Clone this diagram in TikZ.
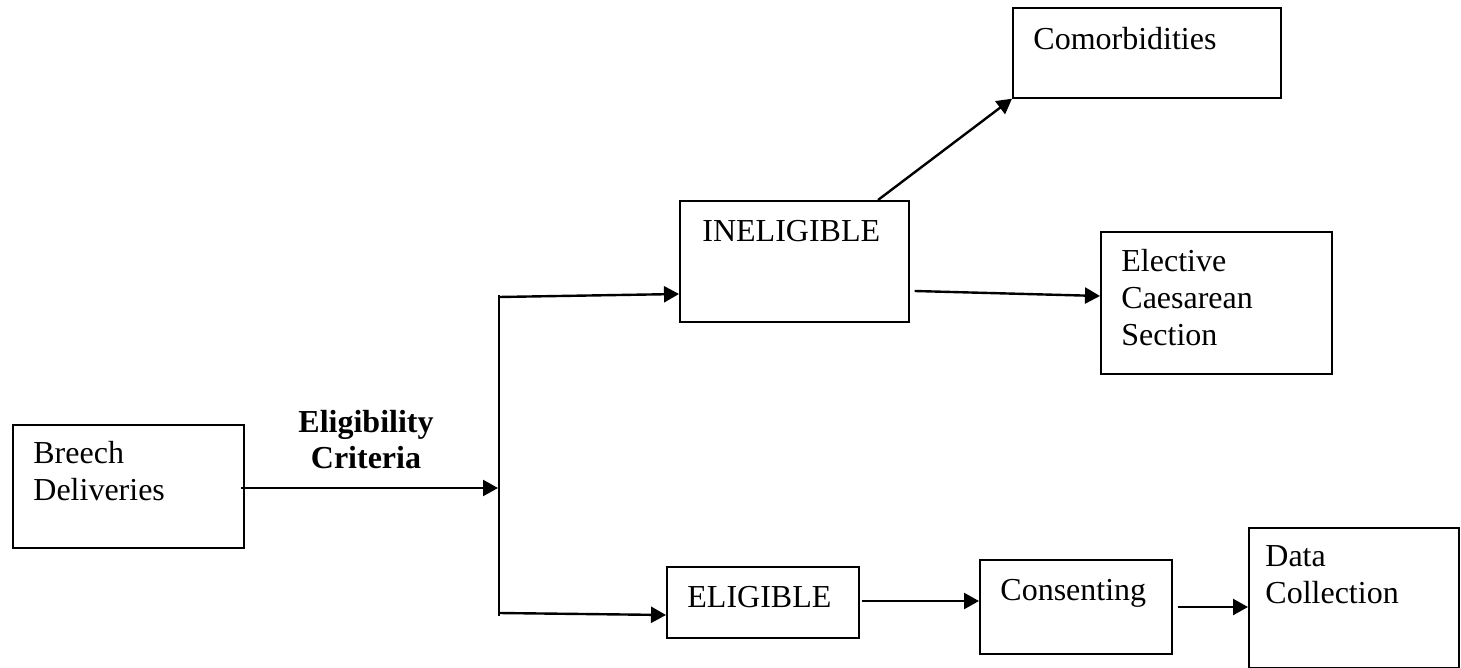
\documentclass[tikz,border=0pt]{standalone}
\usepackage{fontspec}
\setmainfont{Liberation Serif}
\usetikzlibrary{arrows.meta,calc}
\tikzset{
  box/.style={draw, line width=0.85pt, inner sep=0pt, anchor=north west},
  txt/.style={inner sep=0pt, anchor=base west, align=left, font=\fontsize{16}{18.5}\selectfont},
  arr/.style={line width=1.2pt, -{Triangle[length=7.5pt,width=8pt]}},
  ln/.style={line width=1.2pt}
}
\begin{document}
\begin{tikzpicture}[x=0.5pt,y=-0.5pt]
\useasboundingbox (0,0) rectangle (1461,668);
% boxes
\node[box, minimum width=115.5pt, minimum height=61.5pt] (breech) at (12,424) {};
\node[box, minimum width=114.5pt, minimum height=60.5pt] (inel) at (679,200) {};
\node[box, minimum width=134pt, minimum height=45pt] (comorb) at (1012,7) {};
\node[box, minimum width=115.5pt, minimum height=71pt] (elect) at (1100,231) {};
\node[box, minimum width=96pt, minimum height=35.5pt] (elig) at (666,566) {};
\node[box, minimum width=96pt, minimum height=47pt] (cons) at (979,559) {};
\node[box, minimum width=105pt, minimum height=70pt] (data) at (1248,527) {};
% texts (multi-line nodes: base = baseline of the last line)
\node[txt] (breecht) at (33,500) {Breech\\Deliveries};
\node[txt] (inelt) at (702,242) {INELIGIBLE};
\node[txt] (comorbt) at (1033,50) {Comorbidities};
\node[txt] (electt) at (1121,345) {Elective\\Caesarean\\Section};
\node[txt] (eligt) at (687,607) {ELIGIBLE};
\node[txt] (const) at (1000,600) {Consenting};
\node[txt] (datat) at (1265,603) {Data\\Collection};
\node[txt, anchor=base, align=center, font=\fontsize{16}{18}\selectfont\bfseries] (crit) at (366,468) {Eligibility\\Criteria};
% split coordinates
\coordinate (stop) at (499,295);
\coordinate (sbot) at (499,616);
\coordinate (smid) at (499,488);
\coordinate (sup) at (499,297);
\coordinate (sdn) at (499,613);
% connectors
\draw[arr] ($(breech.north west)+(229,64)$) -- ($(smid)+(-1,0)$);
\draw[ln] (stop) -- (sbot);
\draw[arr] (sup) -- ($(inel.north west)+(0,94)$);
\draw[arr] (sdn) -- ($(elig.north west)+(0,49)$);
\draw[arr] ($(inel.north west)+(199,0)$) -- (comorb.south west);
\draw[arr] ($(inel.north east)+(5,91)$) -- ($(elect.north west)+(0,65)$);
\draw[arr] ($(elig.north east)+(2,35)$) -- ($(cons.north west)+(0,42)$);
\draw[arr] ($(cons.north east)+(5,48)$) -- ($(data.north west)+(0,80)$);
\end{tikzpicture}
\end{document}
